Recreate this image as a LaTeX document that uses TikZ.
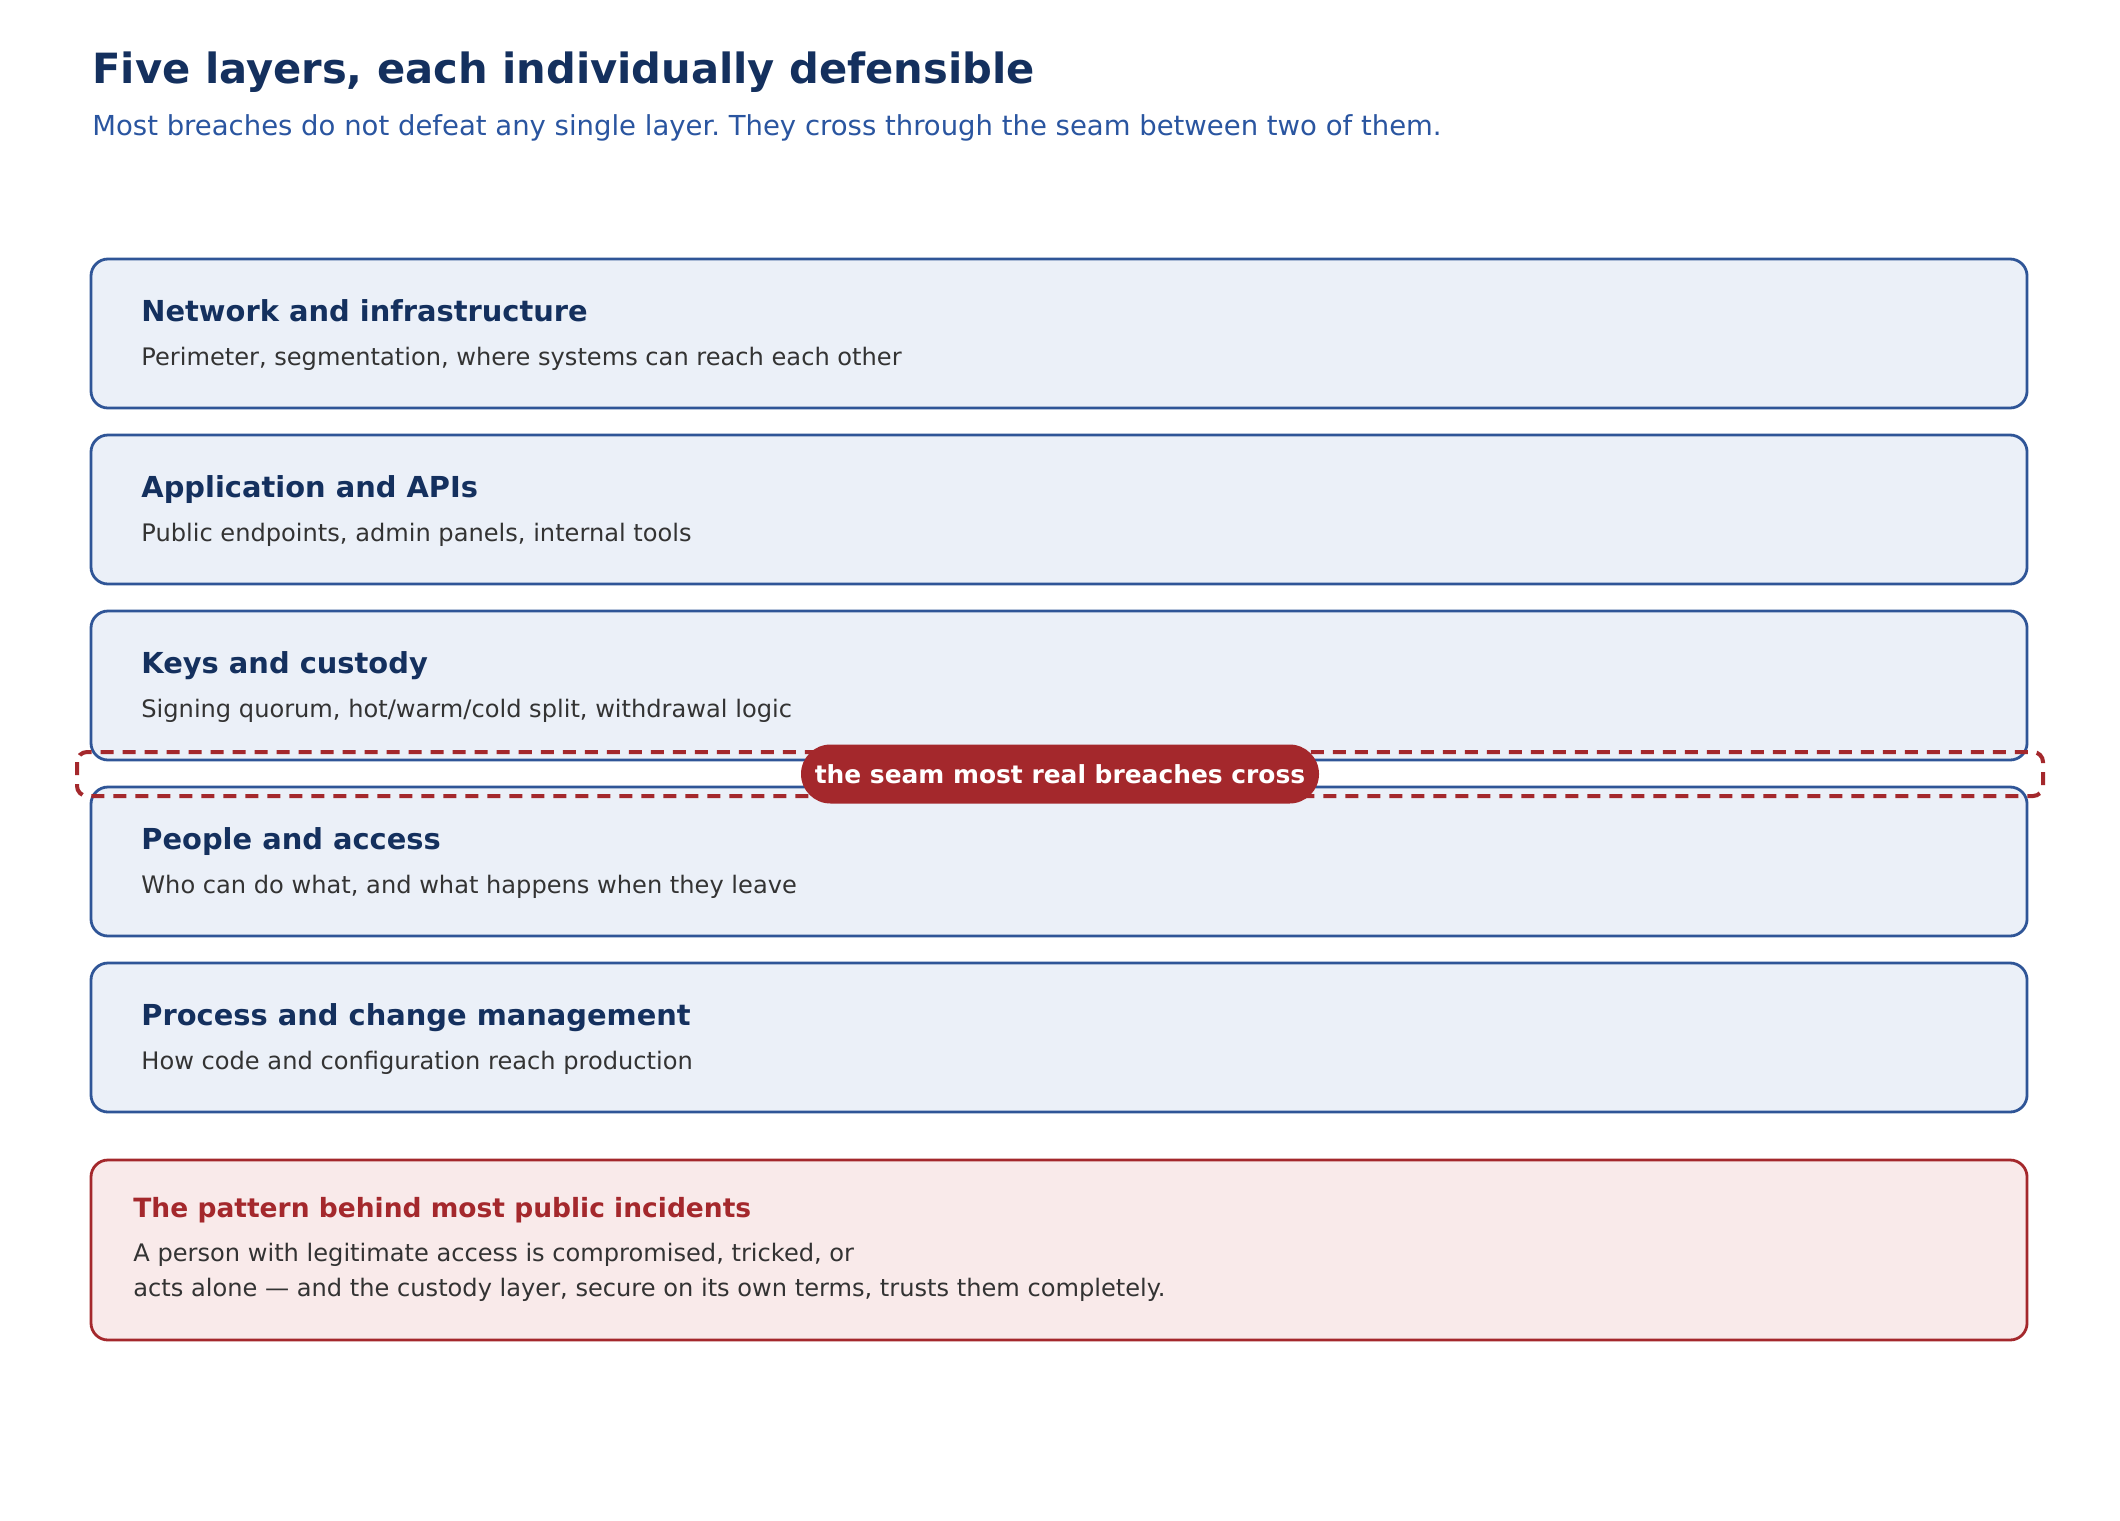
\documentclass[tikz,border=0pt]{standalone}
\usepackage{fontspec}
\setmainfont{DejaVu Sans}
\usetikzlibrary{positioning}
\definecolor{headnavy}{HTML}{14305E}
\definecolor{subblue}{HTML}{2A55A0}
\definecolor{layerline}{HTML}{2F5597}
\definecolor{layerfill}{HTML}{EBF0F8}
\definecolor{bodygrey}{HTML}{333333}
\definecolor{seamred}{HTML}{A4282C}
\definecolor{notefill}{HTML}{F9EAEA}
\frenchspacing
\tikzset{
  layer/.style={draw=layerline, fill=layerfill, line width=1.4bp, rounded corners=8.5bp,
    minimum width=968bp, minimum height=74.5bp, anchor=north west, inner sep=0pt, outer sep=0pt},
  layertitle/.style={anchor=base west, inner sep=0pt, text=headnavy, font=\fontsize{14.5}{17}\selectfont\bfseries},
  layerdesc/.style={anchor=base west, inner sep=0pt, text=bodygrey, font=\fontsize{12.1}{14}\selectfont},
}
\begin{document}
\begin{tikzpicture}[x=0.5bp,y=-0.5bp]
				\useasboundingbox[fill=white] (0,0) rectangle (2120,1520);
				
				\node[anchor=base west, inner sep=0pt, text=headnavy, font=\fontsize{20.9}{24}\selectfont\bfseries] (head) at (92,83) {Five layers, each individually defensible};
				\node[anchor=base west, inner sep=0pt, text=subblue, font=\fontsize{13.8}{16}\selectfont] (subhead) at (92,135) {Most breaches do not defeat any single layer. They cross through the seam between two of them.};
				
				\node[layer] (net) at (91,259) {};
				\node[layertitle] (nettitle) at (141,321) {Network and infrastructure};
				\node[layerdesc] (netdesc) at (141,365) {Perimeter, segmentation, where systems can reach each other};
				
				\node[layer] (app) at (91,435) {};
				\node[layertitle] (apptitle) at (141,497) {Application and APIs};
				\node[layerdesc] (appdesc) at (141,541) {Public endpoints, admin panels, internal tools};
				
				\node[layer] (keys) at (91,611) {};
				\node[layertitle] (keystitle) at (141,673) {Keys and custody};
				\node[layerdesc] (keysdesc) at (141,717) {Signing quorum, hot/warm/cold split, withdrawal logic};
				
				\node[layer] (people) at (91,787) {};
				\node[layertitle] (peopletitle) at (141,849) {People and access};
				\node[layerdesc] (peopledesc) at (141,893) {Who can do what, and what happens when they leave};
				
				\node[layer] (proc) at (91,963) {};
				\node[layertitle] (proctitle) at (141,1025) {Process and change management};
				\node[layerdesc] (procdesc) at (141,1069) {How code and configuration reach production};
				
				% the seam between custody and people
				\draw[seamred, line width=2bp, dash pattern=on 6.5bp off 4.5bp, rounded corners=5bp] (77,752) rectangle (2043,796);
				\node[fill=seamred, text=white, rounded corners=14.75bp, minimum width=259bp, minimum height=29.5bp, inner sep=0pt,
				  font=\fontsize{12.5}{14}\selectfont\bfseries] (seam) at (1060,774) {the seam most real breaches cross};
				
				\node[draw=seamred, fill=notefill, line width=1.4bp, rounded corners=8.5bp, minimum width=968bp, minimum height=90bp,
				  anchor=north west, inner sep=0pt, outer sep=0pt] (note) at (91,1160) {};
				\node[anchor=base west, inner sep=0pt, text=seamred, font=\fontsize{13.3}{16}\selectfont\bfseries] (notetitle) at (133,1217) {The pattern behind most public incidents};
				\node[layerdesc] (noteline1) at (133,1261) {A person with legitimate access is compromised, tricked, or};
				\node[layerdesc] (noteline2) at (133,1296) {acts alone — and the custody layer, secure on its own terms, trusts them completely.};
			\end{tikzpicture}
\end{document}
